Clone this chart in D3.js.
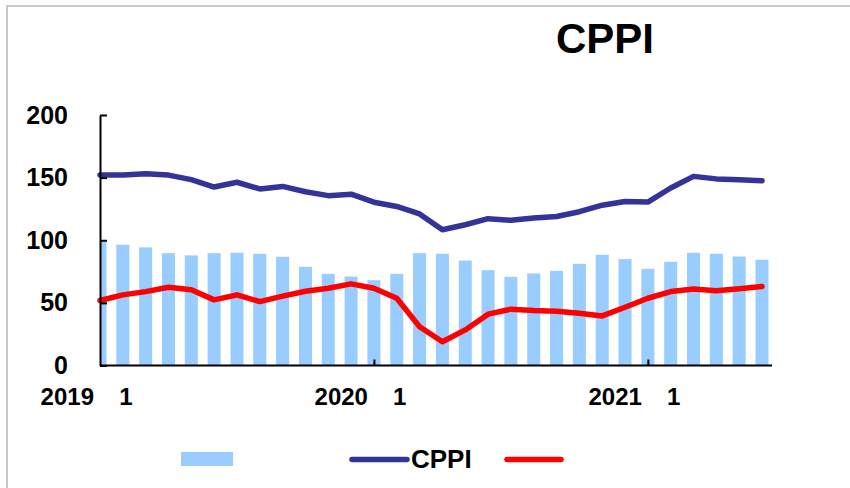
<!DOCTYPE html>
<html>
<head>
<meta charset="utf-8">
<script src="https://cdn.jsdelivr.net/npm/d3@7"></script>
<style>
  body { margin: 0; background: #fff; }
  text { font-family: "Liberation Sans", Arial, sans-serif; font-weight: bold; fill: #000; }
</style>
</head>
<body>
<svg id="chart" width="850" height="488"></svg>
<script>
// bars (no legend label), CPPI line, red line (no legend label)
const barValues = [99, 96.4, 94.3, 89.7, 87.9, 89.7, 90, 89.2, 86.8, 78.8,
                   73.2, 71, 68.1, 73.2, 89.7, 89.2, 83.8, 76.1, 70.8, 73.5,
                   75.6, 81.2, 88.4, 84.9, 77.2, 82.8, 90, 89.2, 87, 84.4];
const cppiValues = [152, 152, 153, 152, 148.4, 142.5, 146.3, 141, 143, 138.7,
                    135.6, 136.8, 130.4, 127, 121, 108.4, 112.4, 117.2, 115.9, 117.7,
                    119, 122.8, 128, 131, 130.5, 141.7, 151, 149, 148.4, 147.6];
const redValues = [51.9, 56.4, 59, 62.5, 60.4, 52.4, 56.4, 51, 55.4, 59.3,
                   61.7, 65.2, 61.7, 53.7, 31, 19, 28.4, 41, 45, 43.9,
                   43.3, 41.7, 39.6, 46.5, 53.7, 59, 61, 59.6, 61.2, 63];
const yTicks = [0, 50, 100, 150, 200];
const yearLabels = ["2019", "2020", "2021"];
const yearIndex = [0, 12, 24];
const monthLabels = ["1", "1", "1"];
const monthIndex = [1, 13, 25];

const barColor = "#99ccff";
const cppiColor = "#333399";
const redColor = "#ff0000";

const svg = d3.select("#chart");

// outer frame
svg.append("rect")
    .attr("x", 7).attr("y", 6)
    .attr("width", 900).attr("height", 600)
    .attr("fill", "none")
    .attr("stroke", "#c8c8c8")
    .attr("stroke-width", 2);

const x = d3.scalePoint()
    .domain(d3.range(barValues.length))
    .range([100, 762]);
const y = d3.scaleLinear()
    .domain([0, 200])
    .range([365.5, 115]);

const barW = x.step() * 0.57;

svg.append("clipPath").attr("id", "plotClip")
    .append("rect")
        .attr("x", 100).attr("y", 100)
        .attr("width", 700).attr("height", 270);

svg.append("g").attr("clip-path", "url(#plotClip)")
    .selectAll("rect")
    .data(barValues)
    .enter().append("rect")
        .attr("x", (d, i) => x(i) - barW / 2)
        .attr("y", d => y(d))
        .attr("width", barW)
        .attr("height", d => y(0) - y(d))
        .attr("fill", barColor);

const line = d3.line()
    .x((d, i) => x(i))
    .y(d => y(d));

svg.append("path")
    .datum(cppiValues)
    .attr("d", line)
    .attr("fill", "none")
    .attr("stroke", cppiColor)
    .attr("stroke-width", 5.5)
    .attr("stroke-linejoin", "round")
    .attr("stroke-linecap", "round");

svg.append("path")
    .datum(redValues)
    .attr("d", line)
    .attr("fill", "none")
    .attr("stroke", redColor)
    .attr("stroke-width", 5.5)
    .attr("stroke-linejoin", "round")
    .attr("stroke-linecap", "round");

// y axis
const yAxis = svg.append("g")
    .attr("transform", "translate(100,0)")
    .call(d3.axisLeft(y).tickValues(yTicks).tickSize(-7).tickSizeOuter(0).tickPadding(32));
yAxis.select(".domain").attr("stroke", "#000").attr("stroke-width", 2);
yAxis.selectAll(".tick line").attr("stroke", "#000").attr("stroke-width", 2);
yAxis.selectAll(".tick text").attr("font-size", "25px")
    .attr("font-family", "'Liberation Sans', Arial, sans-serif");

// x axis
const xAxis = svg.append("g")
    .attr("transform", "translate(0," + y(0) + ")")
    .call(d3.axisBottom(x).tickValues(yearIndex.slice(1)).tickSize(-6).tickFormat(""));
xAxis.select(".domain").remove();
xAxis.selectAll(".tick line").attr("stroke", "#000").attr("stroke-width", 2);
xAxis.append("line")
    .attr("x1", x.range()[0]).attr("x2", x.range()[1] + 10)
    .attr("stroke", "#000").attr("stroke-width", 2);

svg.selectAll("text.year")
    .data(yearLabels)
    .enter().append("text")
        .attr("class", "year")
        .attr("x", (d, i) => x(yearIndex[i]) - 6)
        .attr("y", 405)
        .attr("text-anchor", "end")
        .attr("font-size", "24px")
        .text(d => d);

svg.selectAll("text.month")
    .data(monthLabels)
    .enter().append("text")
        .attr("class", "month")
        .attr("x", (d, i) => x(monthIndex[i]) + 3)
        .attr("y", 405)
        .attr("text-anchor", "middle")
        .attr("font-size", "24px")
        .text(d => d);

// title
svg.append("text")
    .attr("x", 605)
    .attr("y", 53)
    .attr("text-anchor", "middle")
    .attr("font-size", "42px")
    .text("CPPI");

// legend
const legend = svg.append("g");
legend.append("rect")
    .attr("x", 181).attr("y", 452)
    .attr("width", 52).attr("height", 14)
    .attr("fill", barColor);
legend.append("line")
    .attr("x1", 352).attr("x2", 407)
    .attr("y1", 459.5).attr("y2", 459.5)
    .attr("stroke", cppiColor).attr("stroke-width", 5.5)
    .attr("stroke-linecap", "round");
legend.append("text")
    .attr("x", 411)
    .attr("y", 468)
    .attr("font-size", "26px")
    .text("CPPI");
legend.append("line")
    .attr("x1", 507).attr("x2", 561)
    .attr("y1", 459.5).attr("y2", 459.5)
    .attr("stroke", redColor).attr("stroke-width", 5.5)
    .attr("stroke-linecap", "round");
</script>
</body>
</html>
